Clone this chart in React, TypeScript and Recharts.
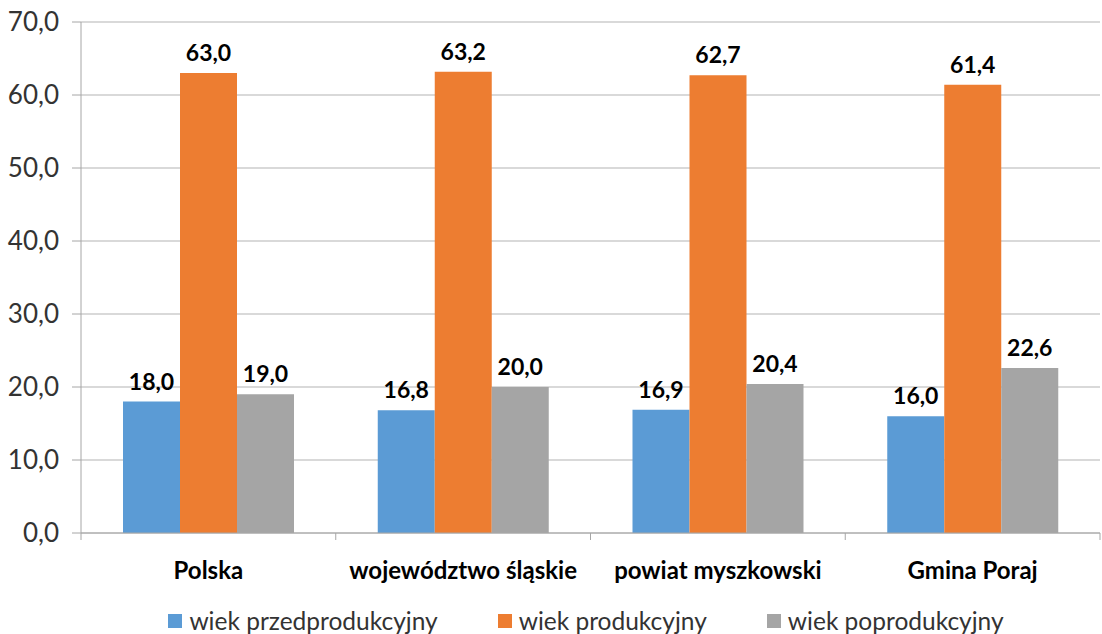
import { BarChart, Bar, XAxis, YAxis, CartesianGrid, Legend, LabelList } from 'recharts'

const categories = ['Polska', 'województwo śląskie', 'powiat myszkowski', 'Gmina Poraj']
const przed = [18.0, 16.8, 16.9, 16.0]
const prod = [63.0, 63.2, 62.7, 61.4]
const poprod = [19.0, 20.0, 20.4, 22.6]
const yTicks = [0, 10, 20, 30, 40, 50, 60, 70]

const seriesNames = ['wiek przedprodukcyjny', 'wiek produkcyjny', 'wiek poprodukcyjny']
const colors = ['#5b9bd5', '#ed7d31', '#a5a5a5']

const data = categories.map((name, i) => ({
  name,
  a: przed[i],
  b: prod[i],
  c: poprod[i],
}))

const W = 1102
const H = 634
const margin = { top: 22, right: 2, bottom: 0, left: 0 }
const yWidth = 81
const font = 'Lato, "Open Sans", sans-serif'

const fmt = (v: any) => Number(v).toFixed(1).replace('.', ',')

const band = (W - margin.left - margin.right - yWidth) / categories.length

function XTick(props: any) {
  const { x, y, payload, index } = props
  return (
    <g>
      <line x1={x - band / 2} x2={x - band / 2} y1={y - 8} y2={y - 1} stroke="#a6a6a6" />
      {index === categories.length - 1 && (
        <line x1={x + band / 2} x2={x + band / 2} y1={y - 8} y2={y - 1} stroke="#a6a6a6" />
      )}
      <text x={x} y={y + 38} textAnchor="middle" fontSize={24} fontWeight={700} fill="#000" fontFamily={font}>
        {payload.value}
      </text>
    </g>
  )
}

function LegendContent() {
  return (
    <div style={{ display: 'flex', justifyContent: 'center', gap: 60, fontFamily: font, fontSize: 24.5, color: '#333', lineHeight: '26px', paddingLeft: 72 }}>
      {seriesNames.map((n, i) => (
        <div key={n} style={{ display: 'flex', alignItems: 'center' }}>
          <span style={{ display: 'inline-block', width: 14, height: 14, background: colors[i], marginRight: 7 }} />
          <span>{n}</span>
        </div>
      ))}
    </div>
  )
}

export default function App() {
  const keys = ['a', 'b', 'c']
  return (
    <div style={{ position: 'absolute', left: 0, top: 0, width: W, height: H, background: '#fff' }}>
      <BarChart width={W} height={H} data={data} margin={margin} barGap={0} barSize={57}>
        <CartesianGrid vertical={false} stroke="#b3b3b3" />
        <XAxis
          dataKey="name"
          axisLine={{ stroke: '#a6a6a6' }}
          tickLine={false}
          tick={<XTick />}
          height={75}
          interval={0}
        />
        <YAxis
          domain={[0, 70]}
          ticks={yTicks}
          tickFormatter={fmt}
          width={yWidth}
          axisLine={{ stroke: '#a6a6a6' }}
          tickLine={{ stroke: '#a6a6a6' }}
          tickSize={9}
          tickMargin={13}
          tick={{ fontSize: 26, fill: '#333', fontFamily: font }}
        />
        <Legend verticalAlign="bottom" height={26} content={<LegendContent />} wrapperStyle={{ bottom: 0 }} />
        {keys.map((k, i) => (
          <Bar key={k} dataKey={k} name={seriesNames[i]} fill={colors[i]} isAnimationActive={false}>
            <LabelList
              dataKey={k}
              position="top"
              offset={12}
              formatter={fmt}
              style={{ fontSize: 23, fontWeight: 700, fill: '#000', fontFamily: font }}
            />
          </Bar>
        ))}
      </BarChart>
    </div>
  )
}
